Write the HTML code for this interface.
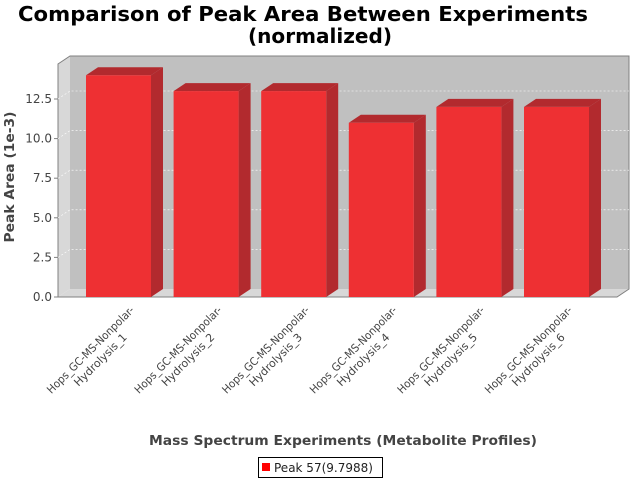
<!DOCTYPE html>
<html><head><meta charset="utf-8"><style>
body{margin:0;background:#fff;}
svg{display:block;font-family:"DejaVu Sans","Liberation Sans",sans-serif;}
</style></head><body>
<svg id="chart" width="640" height="480" xmlns="http://www.w3.org/2000/svg">
<text x="303" y="21" text-anchor="middle" font-size="20" font-weight="bold" textLength="570" lengthAdjust="spacingAndGlyphs">Comparison of Peak Area Between Experiments</text>
<text x="320" y="43" text-anchor="middle" font-size="20" font-weight="bold" textLength="144" lengthAdjust="spacingAndGlyphs">(normalized)</text>
<polygon points="58,64 70,56 70,289 58,297" fill="#d8d8d8"/>
<polygon points="58,297 70,289 629,289 617,297" fill="#d8d8d8"/>
<rect x="70" y="56" width="559" height="233" fill="#c0c0c0"/>
<polyline points="58,297 58,64 70,56 629,56 629,289 617,297 58,297" fill="none" stroke="#808080"/>
<g id="grid"></g>
<g id="yaxis"></g>
<g id="bars"></g>
<g id="xlabels"></g>
<text transform="translate(14,177) rotate(-90)" text-anchor="middle" font-size="13" font-weight="bold" fill="#444" textLength="131" lengthAdjust="spacingAndGlyphs">Peak Area (1e-3)</text>
<text x="343" y="445" text-anchor="middle" font-size="13" font-weight="bold" fill="#444" textLength="388" lengthAdjust="spacingAndGlyphs">Mass Spectrum Experiments (Metabolite Profiles)</text>
<g>
<rect x="258.5" y="457.5" width="124" height="20" fill="#fff" stroke="#000"/>
<rect x="262" y="463" width="8" height="8" fill="#ff0000"/>
<text x="274" y="472" font-size="12" fill="#222">Peak 57(9.7988)</text>
</g>
</svg>
<script>
const categories=["Hydrolysis_1","Hydrolysis_2","Hydrolysis_3","Hydrolysis_4","Hydrolysis_5","Hydrolysis_6"];
const values=[14.0,13.0,13.0,11.0,12.0,12.0];
const yTicks=[0,2.5,5,7.5,10,12.5];
const yTickLabels=["0.0","2.5","5.0","7.5","10.0","12.5"];
const NS="http://www.w3.org/2000/svg";
const DX=12,DY=-8,Y0=297,PX=15.84,LEFT=58,FRONTW=559;
function y(v){return Y0-v*PX;}
const step=87.6,bw=65,first=86;
function x(i){return first+i*step;}
function mk(t,a,p){const e=document.createElementNS(NS,t);for(const k in a)e.setAttribute(k,a[k]);p.appendChild(e);return e;}
const grid=document.getElementById('grid'),ya=document.getElementById('yaxis'),bars=document.getElementById('bars'),xl=document.getElementById('xlabels');
yTicks.forEach((t,i)=>{
 if(t>0){
  const g=mk('polyline',{points:`${LEFT},${y(t)} ${LEFT+DX},${y(t)+DY} ${LEFT+DX+FRONTW},${y(t)+DY}`,fill:'none',stroke:'#fff','stroke-width':0.6,'stroke-dasharray':'2,2'},grid);
  
  
 }
 const tk=mk('line',{x1:LEFT-4,x2:LEFT,y1:y(t),y2:y(t),stroke:'#808080'},ya);
 
 
 const l=mk('text',{x:LEFT-6,y:y(t)+4,'text-anchor':'end','font-size':12,fill:'#444'},ya);
 
 
 l.textContent=yTickLabels[i];
});
values.forEach((v,i)=>{
 const x0=x(i),x1=x0+bw,yt=y(v);
 const g=mk('g',{},bars);
 
 
 mk('polygon',{points:`${x1},${yt} ${x1+DX},${yt+DY} ${x1+DX},${Y0+DY} ${x1},${Y0}`,fill:'#b22a2e'},g);
 mk('polygon',{points:`${x0},${yt} ${x0+DX},${yt+DY} ${x1+DX},${yt+DY} ${x1},${yt}`,fill:'#b22a2e'},g);
 mk('rect',{x:x0,y:yt,width:bw,height:Y0-yt,fill:'#ee3033'},g);
 const c=x0+bw/2;
 const lg=mk('g',{transform:`translate(${c+10},303) rotate(-45)`},xl);
 
 
 const t1=mk('text',{x:-60,y:10,'text-anchor':'middle','font-size':11,fill:'#444',textLength:118,lengthAdjust:'spacingAndGlyphs'},lg);
 t1.textContent='Hops_GC-MS-Nonpolar-';
 const t2=mk('text',{x:-60,y:24,'text-anchor':'middle','font-size':11,fill:'#444'},lg);
 t2.textContent=categories[i];
});
</script>
</body></html>
